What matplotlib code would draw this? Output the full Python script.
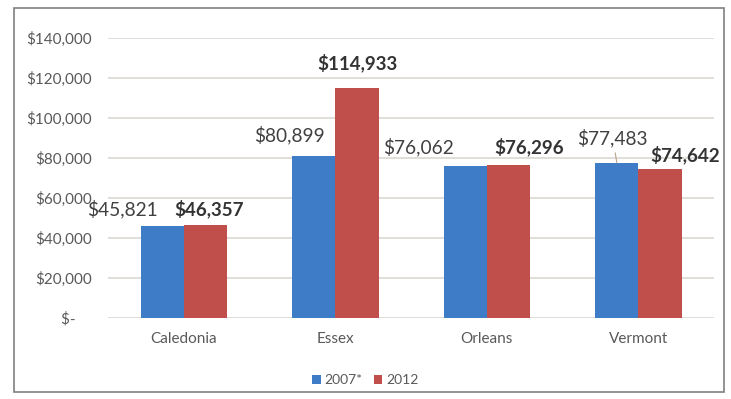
import matplotlib
matplotlib.use("Agg")
import matplotlib.pyplot as plt
import numpy as np
from matplotlib.patches import Rectangle

plt.rcParams['font.family'] = ['Lato', 'DejaVu Sans']

counties = ['Caledonia', 'Essex', 'Orleans', 'Vermont']
income_2007 = [45821, 80899, 76062, 77483]
income_2012 = [46357, 114933, 76296, 74642]
series_names = ['2007*', '2012']
y_ticks = [0, 20000, 40000, 60000, 80000, 100000, 120000, 140000]

# hand-placed label offsets (pixels from the top centre of each bar)
offsets_2007 = [(-40, 17), (-24, 21), (-47, 19), (-4, 25)]
offsets_2012 = [(4, 16), (0, 25), (21, 18), (25, 14)]

blue = '#3f7cc8'
red = '#c04e4b'
gray = '#595959'


def money(v):
    if v == 0:
        return '$-    '
    return '${:,.0f}'.format(v)


fig = plt.figure(figsize=(7.31, 3.99), dpi=100)
ax = fig.add_axes([0.148, 0.203, 0.829, 0.702])

x = np.arange(len(counties))
w = 0.285
bars1 = ax.bar(x - w / 2, income_2007, w, color=blue, label=series_names[0], zorder=2)
bars2 = ax.bar(x + w / 2, income_2012, w, color=red, label=series_names[1], zorder=2)

for i, b in enumerate(bars1):
    dx, dy = offsets_2007[i]
    arrow = None
    if i == 3:
        arrow = dict(arrowstyle='-', color='#b8a48c', lw=0.8, shrinkA=2, shrinkB=0)
    ax.annotate(money(income_2007[i]), (b.get_x() + b.get_width() / 2, b.get_height()),
                xytext=(dx, dy), textcoords='offset pixels', ha='center', va='center',
                fontsize=13.8, color='#404040', arrowprops=arrow, zorder=3)

for i, b in enumerate(bars2):
    dx, dy = offsets_2012[i]
    ax.annotate(money(income_2012[i]), (b.get_x() + b.get_width() / 2, b.get_height()),
                xytext=(dx, dy), textcoords='offset pixels', ha='center', va='center',
                fontsize=13.5, fontweight='bold', color='#333333', zorder=3)

ax.set_xlim(-0.5, len(counties) - 0.5)
ax.set_ylim(0, 140000)
ax.set_yticks(y_ticks)
ax.set_yticklabels([money(v) for v in y_ticks])
ax.set_xticks(x)
ax.set_xticklabels(counties)
ax.tick_params(axis='y', length=0, pad=12, labelsize=11, labelcolor=gray)
ax.tick_params(axis='x', length=0, pad=10, labelsize=11, labelcolor=gray)
ax.grid(axis='y', color='#dedad6', linewidth=1.3, zorder=0)
for s in ax.spines.values():
    s.set_visible(False)

fig.legend(loc='center', bbox_to_anchor=(0.5, 1 - 380 / 399), ncol=2, frameon=False,
           fontsize=10, handlelength=0.6, handleheight=0.6, handletextpad=0.3,
           columnspacing=0.8, labelcolor=gray)

# outer frame
fig.patches.append(Rectangle((14 / 731, 1 - 392 / 399), 710 / 731, 384 / 399,
                             transform=fig.transFigure, fill=False,
                             edgecolor='#7f7f7f', linewidth=1.2))

plt.savefig('out.png', dpi=100)
